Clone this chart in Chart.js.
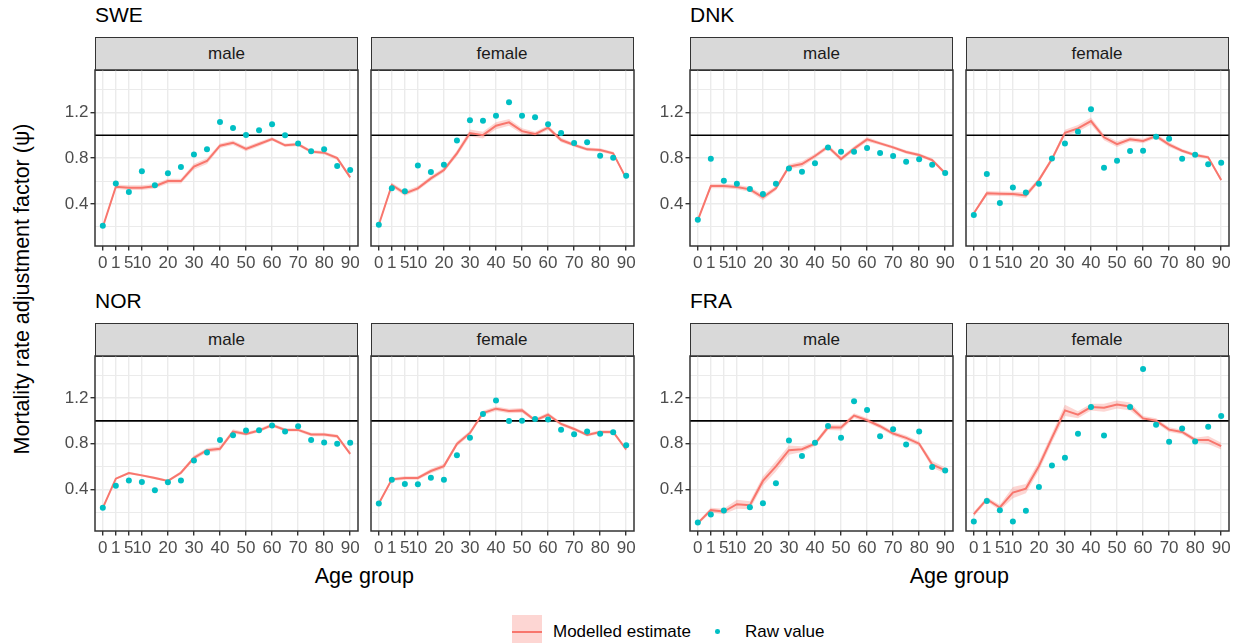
<!DOCTYPE html>
<html>
<head>
<meta charset="utf-8">
<script src="https://cdn.jsdelivr.net/npm/chart.js@4.4.1/dist/chart.umd.min.js"></script>
<style>
  body { margin: 0; background: #fff; font-family: "Liberation Sans", Arial, Helvetica, sans-serif; }
  #page { position: relative; width: 1239px; height: 643px; overflow: hidden; background: #fff; }
  #page canvas { position: absolute; }
  .title { position: absolute; font-size: 21px; line-height: 21px; color: #000; white-space: nowrap; }
  .strip { position: absolute; box-sizing: border-box; border: 1.5px solid #333; background: #d9d9d9;
           color: #1a1a1a; font-size: 17px; text-align: center; }
  .axis-title { position: absolute; font-size: 21.5px; line-height: 22px; color: #000; white-space: nowrap; }
  #ytitle { left: 22px; top: 289px; transform: translate(-50%, -50%) rotate(-90deg); }
  .key-box { position: absolute; left: 512px; top: 615px; width: 30px; height: 33px; background: #fdd6d3; }
  .key-line { position: absolute; left: 512px; top: 630.7px; width: 30px; height: 2px; background: #f8766d; }
  .key-dot { position: absolute; left: 715.4px; top: 629.4px; width: 4.6px; height: 4.6px; border-radius: 50%; background: #00bfc4; }
  .key-text { position: absolute; font-size: 17px; line-height: 17px; color: #000; white-space: nowrap; }
</style>
</head>
<body>
<div id="page"></div>
<script>
// age groups on the x axis (one position per group), and the ones that get a label
const ageGroups = ['0', '1', '5', '10', '15', '20', '25', '30', '35', '40',
                   '45', '50', '55', '60', '65', '70', '75', '80', '85', '90'];
const tickAges = ['0', '1', '5', '10', '20', '30', '40', '50', '60', '70', '80', '90'];

// y axis: grid lines and labelled breaks
const yGrid = [0.2, 0.4, 0.6, 0.8, 1.0, 1.2, 1.4];
const yLabels = [0.4, 0.8, 1.2];
const Y_MIN = 0.034;
const Y_MAX = 1.569;

// raw values, modelled estimate and half-width of its interval
const sweMaleRaw = [0.21, 0.58, 0.505, 0.685, 0.563, 0.668, 0.723, 0.831, 0.877, 1.116, 1.063, 1.002, 1.043, 1.095, 0.999, 0.929, 0.86, 0.877, 0.732, 0.697];
const sweMaleEst = [0.20, 0.551, 0.543, 0.543, 0.555, 0.60, 0.60, 0.726, 0.775, 0.909, 0.935, 0.88, 0.924, 0.967, 0.912, 0.921, 0.857, 0.848, 0.80, 0.633];
const sweMaleCi = [0.01, 0.02, 0.02, 0.02, 0.02, 0.02, 0.02, 0.025, 0.025, 0.02, 0.02, 0.02, 0.02, 0.015, 0.015, 0.015, 0.015, 0.015, 0.015, 0.015];

const sweFemaleRaw = [0.219, 0.537, 0.511, 0.737, 0.679, 0.743, 0.955, 1.13, 1.127, 1.171, 1.287, 1.171, 1.156, 1.095, 1.019, 0.932, 0.938, 0.821, 0.804, 0.647];
const sweFemaleEst = [0.219, 0.566, 0.493, 0.537, 0.624, 0.697, 0.842, 1.019, 1.001, 1.083, 1.112, 1.036, 1.01, 1.066, 0.958, 0.915, 0.877, 0.871, 0.842, 0.624];
const sweFemaleCi = [0.01, 0.02, 0.02, 0.02, 0.02, 0.02, 0.025, 0.03, 0.03, 0.03, 0.03, 0.025, 0.02, 0.02, 0.02, 0.015, 0.015, 0.015, 0.015, 0.015];

const dnkMaleRaw = [0.263, 0.796, 0.604, 0.577, 0.531, 0.487, 0.577, 0.711, 0.682, 0.755, 0.892, 0.857, 0.857, 0.889, 0.845, 0.819, 0.769, 0.79, 0.743, 0.671];
const dnkMaleEst = [0.26, 0.557, 0.557, 0.548, 0.528, 0.458, 0.537, 0.726, 0.749, 0.819, 0.90, 0.793, 0.883, 0.964, 0.929, 0.894, 0.854, 0.828, 0.784, 0.668];
const dnkMaleCi = [0.01, 0.02, 0.02, 0.02, 0.02, 0.025, 0.02, 0.02, 0.025, 0.02, 0.02, 0.02, 0.02, 0.02, 0.015, 0.015, 0.015, 0.015, 0.015, 0.015];

const dnkFemaleRaw = [0.304, 0.662, 0.409, 0.545, 0.501, 0.577, 0.798, 0.929, 1.031, 1.226, 0.717, 0.778, 0.862, 0.865, 0.987, 0.97, 0.795, 0.83, 0.746, 0.76];
const dnkFemaleEst = [0.32, 0.493, 0.49, 0.487, 0.475, 0.609, 0.792, 1.022, 1.06, 1.124, 0.982, 0.923, 0.964, 0.95, 0.993, 0.918, 0.865, 0.827, 0.807, 0.609];
const dnkFemaleCi = [0.01, 0.02, 0.02, 0.02, 0.025, 0.02, 0.02, 0.025, 0.03, 0.03, 0.025, 0.025, 0.02, 0.02, 0.02, 0.02, 0.015, 0.015, 0.015, 0.015];

const norMaleRaw = [0.237, 0.432, 0.476, 0.464, 0.391, 0.461, 0.476, 0.653, 0.723, 0.833, 0.874, 0.915, 0.918, 0.959, 0.906, 0.953, 0.833, 0.81, 0.80, 0.807];
const norMaleEst = [0.237, 0.493, 0.543, 0.522, 0.499, 0.473, 0.545, 0.676, 0.743, 0.755, 0.906, 0.886, 0.915, 0.964, 0.921, 0.921, 0.88, 0.88, 0.865, 0.711];
const norMaleCi = [0.01, 0.01, 0.01, 0.01, 0.01, 0.01, 0.015, 0.02, 0.02, 0.02, 0.02, 0.015, 0.015, 0.015, 0.015, 0.015, 0.015, 0.015, 0.015, 0.015];

const norFemaleRaw = [0.275, 0.484, 0.446, 0.443, 0.502, 0.484, 0.699, 0.851, 1.06, 1.179, 0.999, 1.002, 1.016, 1.011, 0.923, 0.883, 0.906, 0.888, 0.90, 0.787];
const norFemaleEst = [0.275, 0.487, 0.499, 0.499, 0.56, 0.603, 0.798, 0.894, 1.069, 1.107, 1.086, 1.092, 1.005, 1.054, 0.973, 0.929, 0.877, 0.903, 0.903, 0.749];
const norFemaleCi = [0.01, 0.015, 0.015, 0.015, 0.02, 0.02, 0.02, 0.02, 0.02, 0.02, 0.02, 0.02, 0.015, 0.02, 0.015, 0.015, 0.015, 0.015, 0.015, 0.015];

const fraMaleRaw = [0.109, 0.179, 0.214, null, 0.243, 0.278, 0.453, 0.828, 0.691, 0.807, 0.956, 0.851, 1.171, 1.095, 0.865, 0.927, 0.793, 0.906, 0.595, 0.565];
const fraMaleEst = [0.103, 0.217, 0.205, 0.269, 0.26, 0.473, 0.60, 0.743, 0.752, 0.80, 0.944, 0.941, 1.046, 1.005, 0.953, 0.889, 0.851, 0.80, 0.618, 0.565];
const fraMaleCi = [0.015, 0.02, 0.025, 0.04, 0.035, 0.04, 0.045, 0.04, 0.025, 0.02, 0.025, 0.025, 0.02, 0.02, 0.02, 0.02, 0.02, 0.02, 0.03, 0.025];

const fraFemaleRaw = [0.118, 0.298, 0.217, 0.118, 0.211, 0.42, 0.609, 0.676, 0.888, 1.121, 0.871, null, 1.121, 1.455, 0.967, 0.816, 0.932, 0.819, 0.949, 1.043];
const fraFemaleEst = [0.182, 0.313, 0.24, 0.371, 0.406, 0.603, 0.851, 1.092, 1.054, 1.121, 1.115, 1.144, 1.127, 1.022, 1.002, 0.923, 0.903, 0.833, 0.833, 0.778];
const fraFemaleCi = [0.02, 0.02, 0.025, 0.05, 0.04, 0.04, 0.04, 0.05, 0.03, 0.03, 0.035, 0.035, 0.035, 0.02, 0.02, 0.02, 0.02, 0.02, 0.035, 0.03];

const PANEL_W = 263;
const PAD_TOP = 14;
const page = document.getElementById('page');

const groups = [
  { name: 'SWE', left: 95, top: 37, panelTop: 70, height: 176,
    panels: [['male', sweMaleRaw, sweMaleEst, sweMaleCi], ['female', sweFemaleRaw, sweFemaleEst, sweFemaleCi]] },
  { name: 'DNK', left: 690, top: 37, panelTop: 70, height: 176,
    panels: [['male', dnkMaleRaw, dnkMaleEst, dnkMaleCi], ['female', dnkFemaleRaw, dnkFemaleEst, dnkFemaleCi]] },
  { name: 'NOR', left: 95, top: 323, panelTop: 356, height: 175,
    panels: [['male', norMaleRaw, norMaleEst, norMaleCi], ['female', norFemaleRaw, norFemaleEst, norFemaleCi]] },
  { name: 'FRA', left: 690, top: 323, panelTop: 356, height: 175,
    panels: [['male', fraMaleRaw, fraMaleEst, fraMaleCi], ['female', fraFemaleRaw, fraFemaleEst, fraFemaleCi]] },
];

const isOneOf = (v, list) => list.some(u => Math.abs(u - v) < 1e-9);
const tickIdx = tickAges.map(a => ageGroups.indexOf(a));

// theme_bw style border drawn over everything
const panelBorder = {
  id: 'panelBorder',
  afterDraw(chart) {
    const { ctx, chartArea: a } = chart;
    ctx.save();
    ctx.strokeStyle = '#333333';
    ctx.lineWidth = 1.5;
    ctx.strokeRect(a.left, a.top, a.right - a.left, a.bottom - a.top);
    ctx.restore();
  }
};

function addDiv(cls, text, style) {
  const d = document.createElement('div');
  d.className = cls;
  d.textContent = text;
  Object.assign(d.style, style);
  page.appendChild(d);
  return d;
}

function makePanel(left, top, height, showY, raw, est, ci) {
  const yw = showY ? 45 : 0;
  const padL = showY ? 0 : 6;
  const canvas = document.createElement('canvas');
  canvas.width = PANEL_W + yw + padL + 16;
  canvas.height = height + PAD_TOP + 30;
  canvas.style.left = (left - yw - padL) + 'px';
  canvas.style.top = (top - PAD_TOP) + 'px';
  page.appendChild(canvas);

  const pts = arr => arr.map((v, i) => ({ x: i, y: v }));
  const lower = est.map((v, i) => v - ci[i]);
  const upper = est.map((v, i) => v + ci[i]);

  new Chart(canvas, {
    type: 'line',
    data: {
      datasets: [
        { data: pts(lower), borderWidth: 0, pointRadius: 0, fill: false, order: 5 },
        { data: pts(upper), borderWidth: 0, pointRadius: 0, fill: '-1',
          backgroundColor: 'rgba(248,118,109,0.3)', order: 4 },
        { data: [{ x: -0.6, y: 1 }, { x: 19.6, y: 1 }], borderColor: '#000', borderWidth: 1.6,
          pointRadius: 0, order: 3 },
        { data: pts(est), borderColor: '#F8766D', borderWidth: 2, pointRadius: 0, order: 2 },
        { data: pts(raw), showLine: false, pointRadius: 3, pointBorderWidth: 0,
          pointBackgroundColor: '#00BFC4', order: 1 },
      ]
    },
    options: {
      responsive: false,
      animation: false,
      events: [],
      layout: { autoPadding: false, padding: { top: PAD_TOP, right: 16, bottom: 0, left: padL } },
      plugins: { legend: { display: false }, tooltip: { enabled: false } },
      scales: {
        x: {
          type: 'linear', min: -0.6, max: 19.6,
          afterBuildTicks: s => { s.ticks = tickIdx.map(v => ({ value: v })); },
          afterFit: s => { s.height = 30; },
          ticks: { autoSkip: false, maxRotation: 0, color: '#4D4D4D', font: { size: 17 }, padding: 3,
                   callback: v => ageGroups[v] },
          grid: { color: '#EBEBEB', lineWidth: 1.4, tickColor: '#333333', tickLength: 4.5, tickWidth: 1.4 },
          border: { display: false }
        },
        y: {
          type: 'linear', min: Y_MIN, max: Y_MAX,
          afterBuildTicks: s => { s.ticks = yGrid.map(v => ({ value: v })); },
          afterFit: s => { s.width = yw; },
          ticks: { display: showY, color: '#4D4D4D', font: { size: 17 }, padding: 2,
                   callback: v => isOneOf(v, yLabels) ? v.toFixed(1) : '' },
          grid: {
            color: '#EBEBEB',
            lineWidth: c => isOneOf(c.tick.value, yLabels) ? 1.4 : 1.1,
            drawTicks: showY,
            tickLength: 4.5, tickWidth: 1.4,
            tickColor: c => isOneOf(c.tick.value, yLabels) ? '#333333' : 'rgba(0,0,0,0)'
          },
          border: { display: false }
        }
      }
    },
    plugins: [panelBorder]
  });
}

Chart.defaults.font.family = '"Liberation Sans", Arial, Helvetica, sans-serif';

groups.forEach(g => {
  addDiv('title', g.name, { left: g.left + 'px', top: (g.top - 33) + 'px' });
  g.panels.forEach(([sex, raw, est, ci], k) => {
    const left = g.left + k * (PANEL_W + 12.5);
    const stripH = g.panelTop - g.top + 1;
    addDiv('strip', sex, { left: left + 'px', top: g.top + 'px', width: PANEL_W + 'px',
                           height: stripH + 'px', lineHeight: (stripH - 3) + 'px' });
    makePanel(left, g.panelTop, g.height, k === 0, raw, est, ci);
  });
  if (g.top > 100) {
    const cx = g.left + (2 * PANEL_W + 12.5) / 2;
    const t = addDiv('axis-title', 'Age group', { top: '565px' });
    t.style.left = (cx - t.offsetWidth / 2) + 'px';
  }
});

addDiv('axis-title', 'Mortality rate adjustment factor (\u03c8)', {}).id = 'ytitle';

// legend
addDiv('key-box', '', {});
addDiv('key-line', '', {});
addDiv('key-text', 'Modelled estimate', { left: '553px', top: '623px' });
addDiv('key-dot', '', {});
addDiv('key-text', 'Raw value', { left: '745px', top: '623px' });
</script>
</body>
</html>
